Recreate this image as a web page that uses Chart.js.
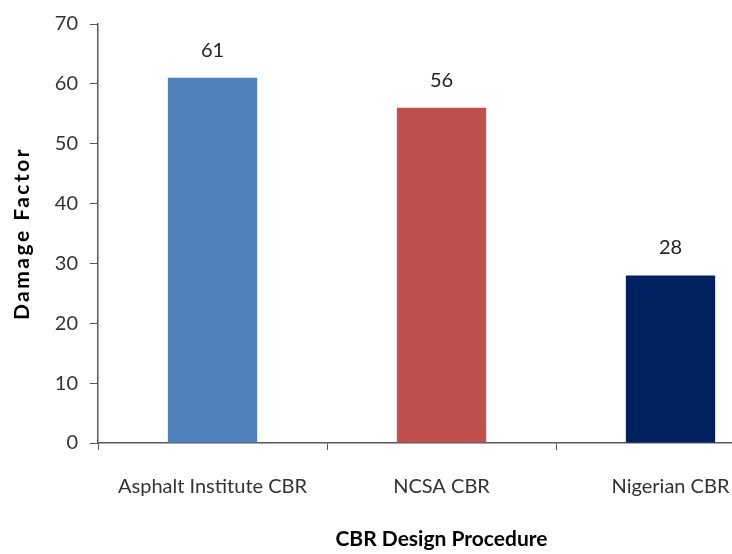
<!DOCTYPE html>
<html>
<head>
<meta charset="utf-8">
<script src="https://cdn.jsdelivr.net/npm/chart.js@4/dist/chart.umd.min.js"></script>
<style>
  html, body { margin: 0; padding: 0; background: #fff; overflow: hidden; }
  #wrap { width: 732px; height: 554px; overflow: hidden; }
</style>
</head>
<body>
<div id="wrap"><canvas id="myChart" width="790" height="554"></canvas></div>
<script>
// chart values
const categories = ['Asphalt Institute CBR', 'NCSA CBR', 'Nigerian CBR'];
const damageFactor = [61, 56, 28];
const barColours = ['#4F81BD', '#C0504D', '#002060'];
const yTicks = [0, 10, 20, 30, 40, 50, 60, 70];
const yTitle = 'Damage Factor';
const xTitle = 'CBR Design Procedure';

const fontName = 'Lato, "Open Sans", sans-serif';
const axisColour = '#595959';

// writes the value above every bar, and the y title (it is stretched in the original)
const barValues = {
    id: 'barValues',
    afterDatasetsDraw: function(chart) {
        const ctx = chart.ctx;
        ctx.save();
        ctx.font = '20px ' + fontName;
        ctx.fillStyle = '#222';
        ctx.textAlign = 'center';
        ctx.textBaseline = 'alphabetic';
        chart.data.datasets.forEach(function(ds, i) {
            chart.getDatasetMeta(i).data.forEach(function(bar, j) {
                ctx.fillText(ds.data[j], bar.x, bar.y - 21);
            });
        });
        ctx.restore();

        const area = chart.chartArea;
        ctx.save();
        ctx.translate(22, (area.top + area.bottom) / 2);
        ctx.rotate(-Math.PI / 2);
        ctx.font = 'bold 21px ' + fontName;
        ctx.letterSpacing = '2.5px';
        ctx.fillStyle = '#000';
        ctx.textAlign = 'center';
        ctx.textBaseline = 'middle';
        ctx.fillText(yTitle, 0, 0);
        ctx.restore();
    }
};

const ctx = document.getElementById('myChart').getContext('2d');
const chart = new Chart(ctx, {
    type: 'bar',
    data: {
        labels: categories,
        datasets: [{
            label: yTitle,
            data: damageFactor,
            backgroundColor: barColours,
            borderWidth: 0,
            categoryPercentage: 1.0,
            barPercentage: 0.39
        }]
    },
    options: {
        responsive: false,
        animation: false,
        layout: { padding: { top: 24, right: 5, left: 0, bottom: 0 } },
        plugins: {
            legend: { display: false },
            tooltip: { enabled: false }
        },
        scales: {
            y: {
                min: 0,
                max: 70,
                afterBuildTicks: function(axis) {
                    axis.ticks = yTicks.map(v => ({ value: v }));
                },
                afterFit: function(axis) { axis.width = 98; },
                border: { display: true, color: axisColour, width: 1.5 },
                grid: { drawOnChartArea: false, drawTicks: true, tickLength: 8, color: axisColour },
                ticks: { color: '#333', font: { family: fontName, size: 20 }, padding: 12 },
                title: { display: false }
            },
            x: {
                afterFit: function(axis) { axis.height = 111; },
                border: { display: true, color: axisColour, width: 1.5 },
                grid: { offset: true, drawOnChartArea: false, drawTicks: true, tickLength: 7, color: axisColour },
                ticks: { color: '#333', font: { family: fontName, size: 20 }, padding: 25, maxRotation: 0 },
                title: {
                    display: true,
                    text: xTitle,
                    color: '#000',
                    font: { family: fontName, size: 21, weight: 'bold' },
                    padding: { top: 0, bottom: 2 }
                }
            }
        }
    },
    plugins: [barValues]
});
</script>
</body>
</html>
